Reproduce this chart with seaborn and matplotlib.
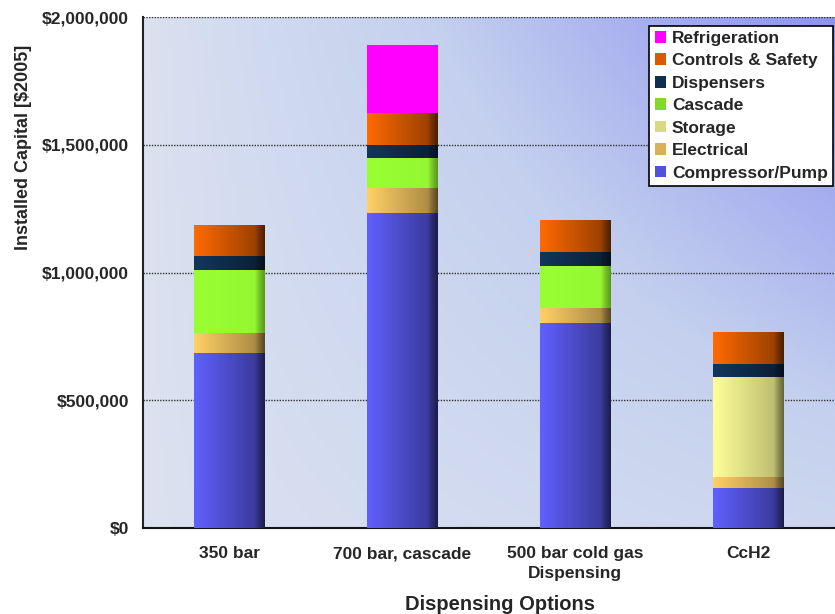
import numpy as np
import pandas as pd
import matplotlib
matplotlib.use("Agg")
import matplotlib.pyplot as plt
import seaborn as sns
from matplotlib.colors import LinearSegmentedColormap, to_rgb
from matplotlib.ticker import FuncFormatter
from matplotlib.patches import Patch

# Data (installed capital, $2005)
options = ['350 bar', '700 bar, cascade', '500 bar cold gas\nDispensing', 'CcH2']
components = ['Compressor/Pump', 'Electrical', 'Storage', 'Cascade',
              'Dispensers', 'Controls & Safety', 'Refrigeration']
compressor = [686000, 1234000, 802000, 158000]
electrical = [78000, 97000, 61000, 43000]
storage = [0, 0, 0, 390000]
cascade = [246000, 117000, 163000, 0]
dispensers = [55000, 51000, 53000, 52000]
controls = [122000, 124000, 125000, 123000]
refrigeration = [0, 267000, 0, 0]

colors = {
    'Compressor/Pump': '#6060ff',
    'Electrical': '#ffd066',
    'Storage': '#ffff99',
    'Cascade': '#99ff33',
    'Dispensers': '#12375e',
    'Controls & Safety': '#ff6a00',
    'Refrigeration': '#ff00ff',
}
# how strongly each segment darkens towards its right edge (mid, edge)
shade = {
    'Compressor/Pump': (0.62, 0.3),
    'Electrical': (0.68, 0.35),
    'Storage': (0.75, 0.4),
    'Cascade': (0.97, 0.6),
    'Dispensers': (0.6, 0.3),
    'Controls & Safety': (0.62, 0.3),
    'Refrigeration': (1.0, 1.0),
}

values = {
    'Compressor/Pump': compressor,
    'Electrical': electrical,
    'Storage': storage,
    'Cascade': cascade,
    'Dispensers': dispensers,
    'Controls & Safety': controls,
    'Refrigeration': refrigeration,
}

sns.set_style('white')
plt.rcParams['font.family'] = ['Liberation Sans', 'DejaVu Sans']
plt.rcParams['font.weight'] = 'bold'

fig = plt.figure(figsize=(8.35, 6.14), dpi=100)
ax = fig.add_axes([0.1713, 0.140, 0.828, 0.8323])

# background gradient: light at left/bottom, purple toward top right
xx, yy = np.meshgrid(np.linspace(0, 1, 200), np.linspace(0, 1, 200))
t = np.clip(xx * (0.25 + 0.75 * yy), 0, 1) ** 0.8
bg = LinearSegmentedColormap.from_list('bg', ['#dbe2f0', '#c4d0ee', '#8e93f0'])
ax.imshow(t, cmap=bg, extent=(-0.5, 3.5, 0, 2000000), origin='lower',
          aspect='auto', zorder=0)

bottom = np.zeros(len(options))
for comp in components:
    df = pd.DataFrame({'option': options, 'value': values[comp]})
    sns.barplot(data=df, x='option', y='value', bottom=bottom, color=colors[comp],
                width=0.41, ax=ax, saturation=1, linewidth=0, zorder=2,
                errorbar=None)
    bars = ax.patches[-len(options):]
    mid, edge = shade[comp]
    c = np.array(to_rgb(colors[comp]))
    cm = LinearSegmentedColormap.from_list(
        comp, [(0, c), (0.86, c * mid), (0.92, c * (mid + edge) / 2), (1.0, c * edge)])
    for patch in bars:
        h = patch.get_height()
        if h <= 0:
            continue
        x0, y0 = patch.get_x(), patch.get_y()
        w = patch.get_width()
        im = ax.imshow(np.linspace(0, 1, 100).reshape(1, -1), cmap=cm,
                       extent=(x0, x0 + w, y0, y0 + h), aspect='auto', zorder=3)
        im.set_clip_path(patch)
    bottom = bottom + np.array(values[comp])

ax.set_xlim(-0.5, 3.5)
ax.set_ylim(0, 2000000)
ax.set_yticks([0, 500000, 1000000, 1500000, 2000000])
ax.yaxis.set_major_formatter(FuncFormatter(lambda v, p: f'${v:,.0f}'))
ax.yaxis.grid(True, linestyle=(0, (1, 1)), color='#333333', linewidth=1)
ax.set_axisbelow(False)
for gl in ax.get_ygridlines():
    gl.set_zorder(1)

ax.set_xticks(range(len(options)))
ax.set_xticklabels(options, fontsize=12.5, fontweight='bold', linespacing=1.4)
ax.set_xticks([0.5, 1.5, 2.5], minor=True)
ax.tick_params(axis='x', which='major', length=0, pad=13)
ax.tick_params(axis='x', which='minor', length=5, width=1, direction='out')
ax.tick_params(axis='y', length=5, width=1, direction='out', labelsize=12.5, pad=5)
for lbl in ax.get_yticklabels():
    lbl.set_fontweight('bold')

for side in ['top', 'right']:
    ax.spines[side].set_visible(False)
ax.spines['left'].set_color('#222222')
ax.spines['bottom'].set_color('#111111')
ax.spines['left'].set_linewidth(1.5)
ax.spines['bottom'].set_linewidth(1.5)

ax.set_xlabel('Dispensing Options', fontsize=14.5, fontweight='bold')
ax.xaxis.set_label_coords(0.516, -0.131)
ax.set_ylabel('Installed Capital [$2005]', fontsize=13, fontweight='bold')
ax.yaxis.set_label_coords(-0.16, 0.745)

handles = [Patch(facecolor=tuple(np.array(to_rgb(colors[c])) * (0.85 if c != 'Refrigeration' else 1.0)),
                 edgecolor='none') for c in components[::-1]]
leg = ax.legend(handles, components[::-1], loc='upper right',
                bbox_to_anchor=(0.998, 0.983), frameon=True, fancybox=False,
                framealpha=1, edgecolor='black', handlelength=0.65, handleheight=0.65,
                handletextpad=0.35, labelspacing=0.43, borderpad=0.3,
                borderaxespad=0.0, prop={'size': 12.5, 'weight': 'bold'})
leg.get_frame().set_linewidth(1.2)

fig.savefig('out.png', dpi=100)
